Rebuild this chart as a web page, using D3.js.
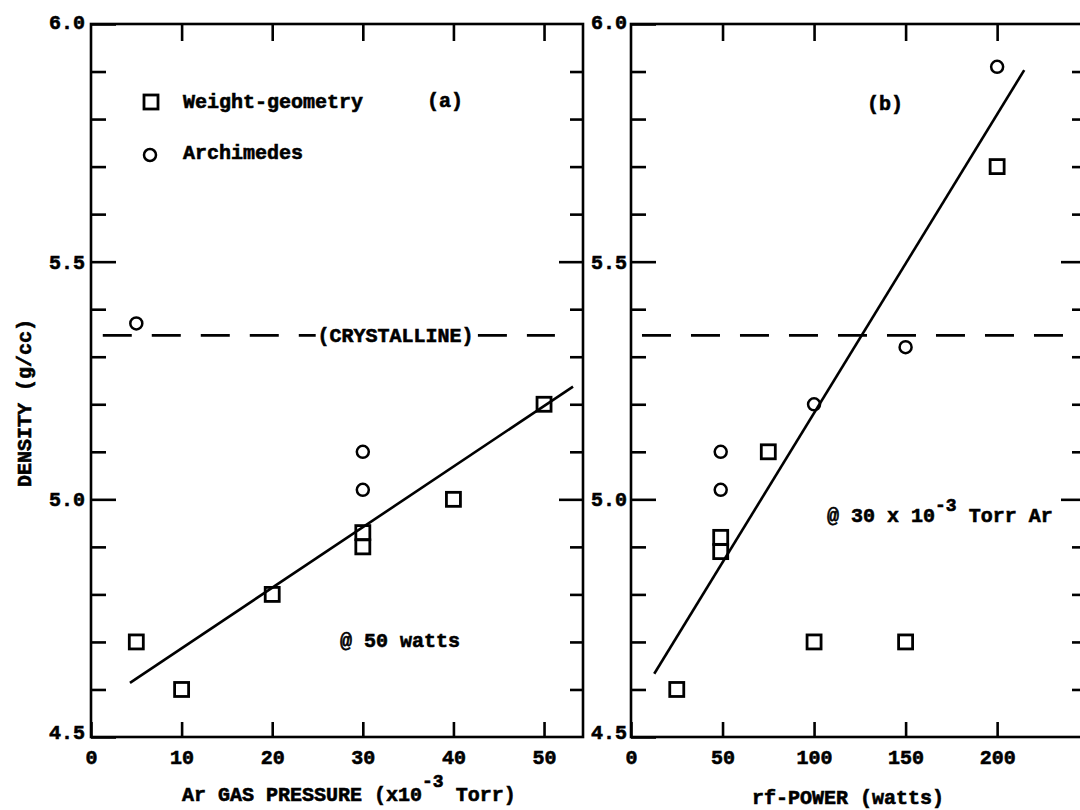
<!DOCTYPE html>
<html><head><meta charset="utf-8">
<script src="https://cdn.jsdelivr.net/npm/d3@7"></script>
<style>body{margin:0;background:#fff}svg{display:block}</style>
</head><body><svg id="c" width="1080" height="810"></svg>
<script>
// ---------- data ----------
const yMajor = [4.5, 5.0, 5.5, 6.0];
const yMinor = [4.6, 4.7, 4.8, 4.9, 5.1, 5.2, 5.3, 5.4, 5.6, 5.7, 5.8, 5.9];
const aTicks = [0, 10, 20, 30, 40, 50];
const bTicks = [0, 50, 100, 150, 200];

// panel (a): density vs Ar gas pressure (x10^-3 Torr) @ 50 watts
const aSquareX = [5, 10, 20, 30, 30, 40, 50];
const aSquareY = [4.70, 4.60, 4.80, 4.93, 4.90, 5.00, 5.20];
const aCircleX = [5, 30, 30];
const aCircleY = [5.37, 5.10, 5.02];
const aFitX = [4.3, 53.2];
const aFitY = [4.614, 5.237];

// panel (b): density vs rf power (watts) @ 30x10^-3 Torr Ar
const bSquareX = [25, 49, 49, 75, 100, 150, 200];
const bSquareY = [4.60, 4.92, 4.89, 5.10, 4.70, 4.70, 5.70];
const bCircleX = [49, 49, 100, 150, 200];
const bCircleY = [5.10, 5.02, 5.20, 5.32, 5.91];
const bFitX = [12.7, 214.8];
const bFitY = [4.633, 5.903];

const crystalline = 5.345;
const aDashLeft = [1.3, 24.8];
const aDashRight = [42.7, 51.2];
const aDashLabelX = 33.6;
const bDash = [6, 248];

// ---------- drawing ----------
const svg = d3.select("#c");
const FONT = "'Liberation Mono','Courier New',monospace";
const SW = 2.6;
const TXT_STROKE = 0.6;

const y = d3.scaleLinear().domain([4.5, 6.0]).range([737, 24]);
const xA = d3.scaleLinear().domain([0, 54.3]).range([91, 583]);
const xB = d3.scaleLinear().domain([0, 248]).range([631, 1085]);

function styleAxis(sel) {
  sel.select(".domain").remove();
  sel.selectAll("line").attr("stroke", "#000").attr("stroke-width", SW);
  sel.attr("font-family", FONT).attr("font-size", 20).attr("font-weight", "bold");
  sel.selectAll("text").attr("fill", "#000").attr("stroke", "#000").attr("stroke-width", TXT_STROKE);
}

function panel(x, xTicks, yPad) {
  const g = svg.append("g");
  const [x0, x1] = x.range();
  g.append("rect")
    .attr("x", x0).attr("y", y(6.0))
    .attr("width", x1 - x0).attr("height", y(4.5) - y(6.0))
    .attr("fill", "none").attr("stroke", "#000").attr("stroke-width", SW);

  // left axis
  const lm = g.append("g").attr("transform", `translate(${x0},0)`)
    .call(d3.axisLeft(y).tickValues(yMajor).tickSize(-25).tickPadding(yPad).tickFormat(d3.format(".1f")));
  styleAxis(lm);
  lm.selectAll(".tick text").attr("dy", d => d === 4.5 ? "0.05em" : (d === 6.0 ? "0.2em" : "0.32em"));
  const ln = g.append("g").attr("transform", `translate(${x0},0)`)
    .call(d3.axisLeft(y).tickValues(yMinor).tickSize(-15).tickFormat(""));
  styleAxis(ln);

  // right axis (inward ticks)
  const rm = g.append("g").attr("transform", `translate(${x1},0)`)
    .call(d3.axisRight(y).tickValues([5.0, 5.5]).tickSize(-24).tickFormat(""));
  styleAxis(rm);
  const rn = g.append("g").attr("transform", `translate(${x1},0)`)
    .call(d3.axisRight(y).tickValues(yMinor).tickSize(-13).tickFormat(""));
  styleAxis(rn);

  // bottom axis
  const bx = g.append("g").attr("transform", `translate(0,${y(4.5)})`)
    .call(d3.axisBottom(x).tickValues(xTicks).tickSize(-15).tickPadding(13));
  styleAxis(bx);

  // top axis
  const tx = g.append("g").attr("transform", `translate(0,${y(6.0)})`)
    .call(d3.axisTop(x).tickValues(xTicks.filter(d => d > 0)).tickSize(-17).tickFormat(""));
  styleAxis(tx);
  return g;
}

function points(g, x, sx, sy, cx, cy) {
  g.append("g").selectAll("rect").data(d3.zip(sx, sy)).join("rect")
    .attr("x", d => x(d[0]) - 7).attr("y", d => y(d[1]) - 7)
    .attr("width", 14).attr("height", 14)
    .attr("fill", "none").attr("stroke", "#000").attr("stroke-width", 2.8);
  g.append("g").selectAll("circle").data(d3.zip(cx, cy)).join("circle")
    .attr("cx", d => x(d[0])).attr("cy", d => y(d[1])).attr("r", 6)
    .attr("fill", "none").attr("stroke", "#000").attr("stroke-width", 2.5);
}

function fitLine(g, x, fx, fy) {
  g.append("path").datum(d3.zip(fx, fy))
    .attr("d", d3.line().x(d => x(d[0])).y(d => y(d[1])))
    .attr("fill", "none").attr("stroke", "#000").attr("stroke-width", SW);
}

function dash(g, x, seg) {
  g.append("path").datum(seg.map(v => [v, crystalline]))
    .attr("d", d3.line().x(d => x(d[0])).y(d => y(d[1])))
    .attr("fill", "none").attr("stroke", "#000").attr("stroke-width", SW)
    .attr("stroke-dasharray", "29,20");
}

function label(g, txt, px, py, anchor) {
  return g.append("text").attr("x", px).attr("y", py)
    .attr("text-anchor", anchor || "start")
    .attr("font-family", FONT).attr("font-size", 20).attr("font-weight", "bold")
    .attr("fill", "#000").attr("stroke", "#000").attr("stroke-width", TXT_STROKE)
    .text(txt);
}

// ----- panel (a)
const gA = panel(xA, aTicks, 6);
dash(gA, xA, aDashLeft);
dash(gA, xA, aDashRight);
label(gA, "(CRYSTALLINE)", xA(aDashLabelX), y(crystalline) + 7, "middle");
fitLine(gA, xA, aFitX, aFitY);
points(gA, xA, aSquareX, aSquareY, aCircleX, aCircleY);

// legend
gA.append("rect").attr("x", 144).attr("y", 95).attr("width", 14).attr("height", 14)
  .attr("fill", "none").attr("stroke", "#000").attr("stroke-width", 2.8);
gA.append("circle").attr("cx", 150).attr("cy", 155).attr("r", 6)
  .attr("fill", "none").attr("stroke", "#000").attr("stroke-width", 2.5);
label(gA, "Weight-geometry", 183, 108);
label(gA, "Archimedes", 183, 159);
label(gA, "(a)", 445, 107, "middle");
label(gA, "@ 50 watts", 340, 647);

// x title (a)
const tA = label(gA, "", 182, 801);
tA.append("tspan").text("Ar GAS PRESSURE (x10");
tA.append("tspan").attr("dy", -14).attr("font-size", 18).text("-3");
tA.append("tspan").attr("dy", 14).text(" Torr)");

// y title
svg.append("text")
  .attr("transform", "translate(31,403) rotate(-90)")
  .attr("text-anchor", "middle")
  .attr("font-family", FONT).attr("font-size", 20).attr("font-weight", "bold")
  .attr("fill", "#000").attr("stroke", "#000").attr("stroke-width", TXT_STROKE)
  .text("DENSITY (g/cc)");

// ----- panel (b)
const gB = panel(xB, bTicks, 4);
dash(gB, xB, bDash);
fitLine(gB, xB, bFitX, bFitY);
points(gB, xB, bSquareX, bSquareY, bCircleX, bCircleY);
label(gB, "(b)", 885, 110, "middle");
const ann = label(gB, "", 827, 522);
ann.append("tspan").text("@ 30 x 10");
ann.append("tspan").attr("dy", -11).attr("font-size", 18).text("-3");
ann.append("tspan").attr("dy", 11).text(" Torr Ar");
label(gB, "rf-POWER (watts)", 848, 804, "middle");
</script>
</body></html>
